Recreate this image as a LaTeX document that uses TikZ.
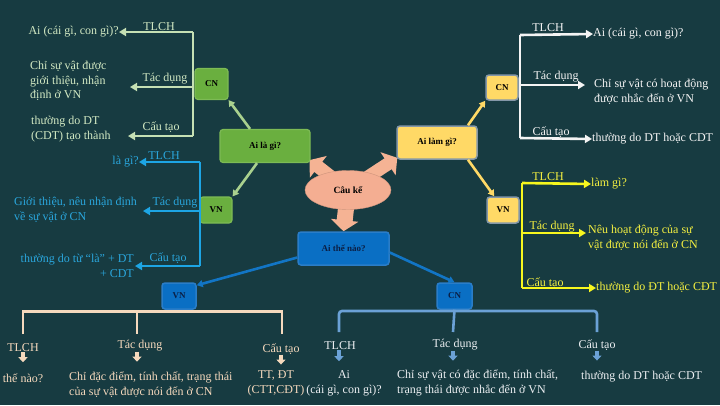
\documentclass[tikz,border=0pt]{standalone}
\usepackage{fontspec}
\setmainfont{Liberation Serif}
\usetikzlibrary{arrows.meta,shapes.geometric,calc}
\definecolor{bgc}{HTML}{173B41}
\definecolor{gl}{HTML}{C5E0B4}
\definecolor{gtext}{HTML}{D2E9C3}
\definecolor{gfill}{HTML}{6AAF3F}
\definecolor{gdraw}{HTML}{7DBB55}
\definecolor{gconn}{HTML}{A9D18E}
\definecolor{cy}{HTML}{1DA5E4}
\definecolor{cytext}{HTML}{2AA6DC}
\definecolor{yfill}{HTML}{FFD966}
\definecolor{ydraw}{HTML}{8497A8}
\definecolor{yl}{HTML}{F7F71E}
\definecolor{yltext}{HTML}{F4F040}
\definecolor{wl}{HTML}{F4F4F4}
\definecolor{salf}{HTML}{F4AE92}
\definecolor{sala}{HTML}{F5B394}
\definecolor{bfill}{HTML}{0A6FC4}
\definecolor{bdraw}{HTML}{2A7DC8}
\definecolor{bconn}{HTML}{1275C5}
\definecolor{beige}{HTML}{F5D9BD}
\definecolor{lb}{HTML}{6BA1D6}
\definecolor{lbtext}{HTML}{ECEFF2}
\definecolor{navy}{HTML}{0B1F45}
\pgfdeclarelayer{bg}
\pgfdeclarelayer{back}
\pgfsetlayers{back,bg,main}
\begin{document}
\begin{tikzpicture}[x=1pt,y=-1pt,
  lbl/.style={font=\fontsize{12}{14}\selectfont, inner sep=0pt},
  txt/.style={font=\fontsize{12}{14.8}\selectfont, inner sep=0pt, align=left},
  box/.style={rounded corners=3pt, inner sep=0pt, font=\fontsize{9}{10}\selectfont\bfseries},
  gbox/.style={box, fill=gfill, draw=gdraw, line width=1.2pt, text=black},
  ybox/.style={box, fill=yfill, draw=ydraw, line width=1.5pt, text=black},
  bbox/.style={box, fill=bfill, draw=bdraw, line width=1.5pt, text=navy},
  arr/.style={-{Triangle[length=7pt,width=8pt]}},
  smallarr/.style={-{Triangle[length=5pt,width=9pt]}, line width=3.5pt},
  branch/.style={line width=2.6pt},
  conn/.style={line width=2.6pt, -{Triangle[length=6pt,width=7pt]}},
  bigarr/.style={draw=sala, line width=13pt, -{Triangle[length=11pt,width=27pt]}}
]
\begin{pgfonlayer}{back}
\fill[bgc] (0,0) rectangle (720,405);
\end{pgfonlayer}
\useasboundingbox (0,0) rectangle (720,405);

% ---------- central nodes ----------
\node[gbox, minimum width=33pt, minimum height=31pt] (cnG) at (211.5,84) {CN};
\node[gbox, minimum width=90pt, minimum height=33pt] (aila) at (265,146) {Ai là gì?};
\node[gbox, minimum width=32pt, minimum height=26pt] (vnG) at (216,210) {VN};
\node[ybox, minimum width=80pt, minimum height=33pt] (ailam) at (437,142.5) {Ai làm gì?};
\node[ybox, minimum width=32pt, minimum height=25pt] (cnY) at (502,87.5) {CN};
\node[ybox, minimum width=32pt, minimum height=26pt] (vnY) at (503,210) {VN};
\node[ellipse, fill=salf, draw=salf!85!black, line width=0.4pt, minimum width=86pt, minimum height=39pt, inner sep=0pt, font=\fontsize{9.5}{10}\selectfont\bfseries] (cauke) at (348,190) {Câu kể};
\node[bbox, minimum width=91pt, minimum height=33pt] (aithe) at (343.5,248.5) {Ai thế nào?};
\node[bbox, minimum width=34pt, minimum height=26pt] (vnB) at (179,296) {VN};
\node[bbox, minimum width=35pt, minimum height=26pt] (cnB) at (454.5,296) {CN};

% salmon block arrows
\begin{pgfonlayer}{bg}
\draw[bigarr] (cauke.center) -- ($(aila.south east)+(-1,-3)$);
\draw[bigarr] (cauke.center) -- ($(ailam.south west)+(1,-2)$);
\draw[bigarr, line width=16pt] (cauke.center) -- (aithe.north);
\end{pgfonlayer}

% connectors between boxes
\draw[conn, draw=gconn] ($(aila.north)+(-15,0)$) -- (cnG.south east);
\draw[conn, draw=gconn] ($(aila.south)+(-8,0)$) -- (vnG.north east);
\draw[conn, draw=yfill] ($(ailam.north)+(31,0)$) -- (cnY.south west);
\draw[conn, draw=yfill] ($(ailam.south)+(31,0)$) -- ($(vnY.north west)+(8,0)$);
\draw[conn, draw=bconn] ($(aithe.west)+(0,9)$) -- ($(vnB.north east)+(0,3)$);
\draw[conn, draw=bconn] ($(aithe.east)+(0,4)$) -- (cnB.north);

% ---------- green branch (CN of Ai la gi) ----------
\coordinate (g1) at (193,32); \coordinate (g2) at (193,87); \coordinate (g3) at (193,136);
\draw[branch, draw=gl] (g1) -- (g3);
\node[txt, text=gtext, anchor=east] (gt1) at (119,32) {Ai (cái gì, con gì)?};
\node[txt, text=gtext, anchor=west] (gt2) at (30,81) {Chỉ sự vật được\\giới thiệu, nhận\\định ở VN};
\node[txt, text=gtext, anchor=west] (gt3) at (31,129) {thường do DT\\(CDT) tạo thành};
\coordinate (g2t) at (130,87); \coordinate (g3t) at (128,136);
\draw[branch, draw=gl, arr] (g1) -- (gt1.east);
\draw[branch, draw=gl, arr] (g2) -- (g2t);
\draw[branch, draw=gl, arr] (g3) -- (g3t);
\node[lbl, text=gtext] (gl1) at (159,27) {TLCH};
\node[lbl, text=gtext] (gl2) at (165,79) {Tác dụng};
\node[lbl, text=gtext] (gl3) at (161,127) {Cấu tạo};

% ---------- cyan branch (VN of Ai la gi) ----------
\coordinate (c1) at (200,162); \coordinate (c2) at (200,211); \coordinate (c3) at (200,266);
\draw[branch, draw=cy] (c1) -- (c3);
\node[txt, text=cytext, anchor=east] (ct1) at (139,162) {là gì?};
\node[txt, text=cytext, anchor=west] (ct2) at (14,209.5) {Giới thiệu, nêu nhận định\\về sự vật ở CN};
\node[txt, text=cytext, anchor=east, align=right] (ct3) at (134,266) {thường do từ “là” + DT\\+ CDT};
\coordinate (c2t) at (143,211); \coordinate (c3t) at (135,266);
\draw[branch, draw=cy, arr] (c1) -- (ct1.east);
\draw[branch, draw=cy, arr] (c2) -- (c2t);
\draw[branch, draw=cy, arr] (c3) -- (c3t);
\node[lbl, text=cytext] (cl1) at (164,156) {TLCH};
\node[lbl, text=cytext] (cl2) at (175,203) {Tác dụng};
\node[lbl, text=cytext] (cl3) at (168,258) {Cấu tạo};

% ---------- white branch (CN of Ai lam gi) ----------
\coordinate (w1) at (520,35); \coordinate (w2) at (520,85); \coordinate (w3) at (520,138);
\draw[branch, draw=wl] (w1) -- (w3);
\node[txt, text=wl, anchor=west] (wt1) at (593,34) {Ai (cái gì, con gì)?};
\node[txt, text=wl, anchor=west] (wt2) at (594,92) {Chỉ sự vật có hoạt động\\được nhắc đến ở VN};
\node[txt, text=wl, anchor=west] (wt3) at (592,139) {thường do DT hoặc CDT};
\coordinate (w2t) at (585,85);
\draw[branch, draw=wl, arr] (w1) -- (wt1.west);
\draw[branch, draw=wl, arr] (w2) -- (w2t);
\draw[branch, draw=wl, arr] (w3) -- (wt3.west);
\node[lbl, text=wl] (wl1) at (548,28) {TLCH};
\node[lbl, text=wl] (wl2) at (556,77) {Tác dụng};
\node[lbl, text=wl] (wl3) at (551,132) {Cấu tạo};

% ---------- yellow branch (VN of Ai lam gi) ----------
\coordinate (y1) at (522,183); \coordinate (y2) at (522,233); \coordinate (y3) at (522,288);
\draw[branch, draw=yl] (y1) -- (y3);
\node[txt, text=yltext, anchor=west] (yt1) at (591,184) {làm gì?};
\node[txt, text=yltext, anchor=west] (yt2) at (588,238) {Nêu hoạt động của sự\\vật được nói đến ở CN};
\node[txt, text=yltext, anchor=west] (yt3) at (596,288) {thường do ĐT hoặc CĐT};
\coordinate (y2t) at (586,233);
\draw[branch, draw=yl, arr] (y1) -- (yt1.west);
\draw[branch, draw=yl, arr] (y2) -- (y2t);
\draw[branch, draw=yl, arr] (y3) -- (yt3.west);
\node[lbl, text=yltext] (yl1) at (548,177) {TLCH};
\node[lbl, text=yltext] (yl2) at (552,227) {Tác dụng};
\node[lbl, text=yltext] (yl3) at (545,283) {Cấu tạo};

% ---------- beige branch (VN of Ai the nao) ----------
\coordinate (bh1) at (23,311.5); \coordinate (bh2) at (137,311.5); \coordinate (bh3) at (282,311.5);
\coordinate (bd1) at (23,334); \coordinate (bd2) at (137,334); \coordinate (bd3) at (282,334);
\draw[branch, draw=beige] (bd1) -- (bh1) -- (bh3) -- (bd3);
\draw[branch, draw=beige] (bh2) -- (bd2);
\node[lbl, text=beige] (bl1) at (23,348) {TLCH};
\node[lbl, text=beige] (bl2) at (140,346) {Tác dụng};
\node[lbl, text=beige] (bl3) at (281,349) {Cấu tạo};
\node[txt, text=beige] (bt1) at (23,378) {thế nào?};
\node[txt, text=beige, anchor=west] (bt2) at (69,384.5) {Chỉ đặc điểm, tính chất, trạng thái\\của sự vật được nói đến ở CN};
\node[txt, text=beige, align=center] (bt3) at (276,383.5) {TT, ĐT\\(CTT,CĐT)};
\draw[smallarr, draw=beige] (bl1.south) -- ($(bl1.south)+(0,10)$);
\draw[smallarr, draw=beige] ($(bl2.south)+(-3,0)$) -- ($(bl2.south)+(-3,10)$);
\draw[smallarr, draw=beige] (bl3.south) -- ($(bl3.south)+(0,10)$);

% ---------- light blue branch (CN of Ai the nao) ----------
\coordinate (lh1) at (339,311); \coordinate (lh2) at (453,311); \coordinate (lh3) at (597,311);
\coordinate (ld1) at (339,332); \coordinate (ld2) at (453,332); \coordinate (ld3) at (597,332);
\draw[branch, draw=lb, rounded corners=3pt] (ld1) -- (lh1) -- (lh3) -- (ld3);
\draw[branch, draw=lb] (cnB.south) -- (ld2);
\node[lbl, text=lbtext] (ll1) at (340,346) {TLCH};
\node[lbl, text=lbtext] (ll2) at (455,345) {Tác dụng};
\node[lbl, text=lbtext] (ll3) at (597,345) {Cấu tạo};
\node[txt, text=lbtext, align=center] (lt1) at (344,383) {Ai\\(cái gì, con gì)?};
\node[txt, text=lbtext, anchor=west] (lt2) at (397,383) {Chỉ sự vật có đặc điểm, tính chất,\\trạng thái được nhắc đến ở VN};
\node[txt, text=lbtext, anchor=west] (lt3) at (581,377) {thường do DT hoặc CDT};
\draw[smallarr, draw=lb] ($(ll1.south)+(-1,0)$) -- ($(ll1.south)+(-1,11)$);
\draw[smallarr, draw=lb] ($(ll2.south)+(-2,0)$) -- ($(ll2.south)+(-2,10)$);
\draw[smallarr, draw=lb] (ll3.south) -- ($(ll3.south)+(0,10)$);
\end{tikzpicture}
\end{document}
